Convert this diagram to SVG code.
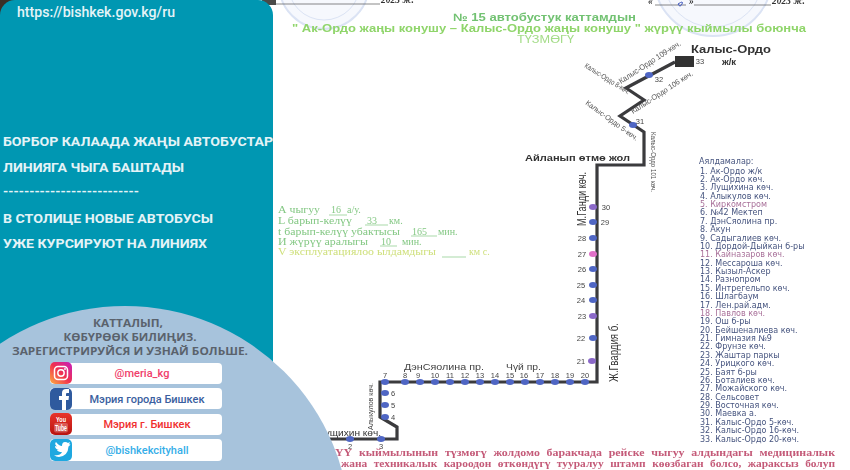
<svg xmlns="http://www.w3.org/2000/svg" width="850" height="470" viewBox="0 0 850 470">
<style>
.s{fill:#4f66c4}.p{fill:#8a68c8}.k{fill:#e070c8}
.n{font:7.5px "Liberation Sans",Arial,sans-serif;fill:#444;text-anchor:middle}
.r{font:8px "Liberation Sans",Arial,sans-serif;fill:#555}
.l{font:8px "DejaVu Sans",Verdana,sans-serif;fill:#46547f}
.lp{fill:#a87099}
.g{font:10px "Liberation Serif",serif;fill:#84c884}
.t{font:bold 11px "Liberation Sans",Arial,sans-serif;fill:#8fd56a}
.h{font:700 13.6px Roboto,"Liberation Sans",sans-serif;fill:#e4f3f7}
.c{font:700 11px "Open Sans","Liberation Sans",sans-serif;fill:#5a626c;text-anchor:middle}
.b{font:500 11px Roboto,"Liberation Sans",sans-serif;text-anchor:middle}
.red{font:bold 9.5px "Liberation Serif",serif;fill:#c45a78;word-spacing:3px}
.top{font:italic bold 9.5px "Liberation Serif",serif;fill:#333}
.pill{fill:#fff}
</style>
<defs>
<filter id="soft" x="-5%" y="-5%" width="110%" height="110%"><feGaussianBlur stdDeviation="0.35"/></filter>
<linearGradient id="ig" x1="0" y1="1" x2="1" y2="0"><stop offset="0" stop-color="#fdb040"/><stop offset="0.5" stop-color="#f0304f"/><stop offset="1" stop-color="#c41fc0"/></linearGradient>
<linearGradient id="yt" x1="0" y1="0" x2="0" y2="1"><stop offset="0" stop-color="#e8342a"/><stop offset="1" stop-color="#b81410"/></linearGradient>
</defs>
<rect width="850" height="470" fill="#fff"/>

<g id="document" filter="url(#soft)">
<g id="stamps" fill="none" stroke="#dbe3f4">
<circle cx="324" cy="-16" r="45" stroke-width="2" fill="#f6f8fd"/><circle cx="324" cy="-16" r="36" stroke-width="1"/>
<circle cx="713" cy="-23" r="59" stroke-width="2" fill="#f6f8fd"/><circle cx="713" cy="-23" r="50" stroke-width="1"/>
</g>
<path d="M276 4H380M655 5H686M694 5H771" stroke="#555" stroke-width="0.7" fill="none"/>
<text class="top" x="381" y="3">2023 ж.</text>
<text class="top" x="648" y="4">«</text><text class="top" x="689" y="4">»</text>
<text class="top" x="772" y="4">2023 ж.</text>
<path d="M678 4q6-4 4 0t-4 0" stroke="#4058c0" fill="none"/>

<text class="t" x="453" y="21" style="fill:#72c272" lengthAdjust="spacingAndGlyphs" textLength="183">№ 15 автобустук каттамдын</text>
<text class="t" x="292" y="32" lengthAdjust="spacingAndGlyphs" textLength="514">" Ак-Ордо жаңы конушу – Калыс-Ордо жаңы конушу " жүрүү кыймылы боюнча</text>
<text class="t" x="517" y="43" style="font-weight:normal;fill:#a4dc88" lengthAdjust="spacingAndGlyphs" textLength="57">ТҮЗМӨГҮ</text>

<g id="info">
<text class="g" x="278" y="213" lengthAdjust="spacingAndGlyphs" textLength="42">А чыгуу</text><text class="g" x="331" y="213">16</text><text class="g" x="347" y="213">а/у.</text>
<text class="g" x="278" y="224" lengthAdjust="spacingAndGlyphs" textLength="74">L барып-келүү</text><text class="g" x="367" y="224">33</text><text class="g" x="389" y="224">км.</text>
<text class="g" x="278" y="235" lengthAdjust="spacingAndGlyphs" textLength="122">t барып-келүү убактысы</text><text class="g" x="412" y="235">165</text><text class="g" x="438" y="235">мин.</text>
<text class="g" x="278" y="245" lengthAdjust="spacingAndGlyphs" textLength="90">И жүрүү аралыгы</text><text class="g" x="381" y="245">10</text><text class="g" x="402" y="245">мин.</text>
<text class="g" x="278" y="255" style="fill:#cfe07c" lengthAdjust="spacingAndGlyphs" textLength="158">V эксплуатациялоо ылдамдыгы</text><text class="g" x="469" y="255" style="fill:#cfe07c">км с.</text>
<path d="M329 215H347M365 225H388M411 236H437M380 246H397M442 257H466" stroke="#84c884" stroke-width="0.7" fill="none"/>
</g>

<g id="connectors">
<path id="route" d="M325 439H397V427L380 417V382H597V165H644V132L620 116L644 100L626 88L675 62" fill="none" stroke="#3a3a3e" stroke-width="3.2" stroke-linejoin="miter"/>
</g>

<g id="terminal"><rect x="675" y="56" width="19" height="11" fill="#333"/><text class="n" x="700" y="64">33</text></g>
<g id="stop-32"><ellipse class="s" cx="649" cy="75" rx="4" ry="3"/><text class="n" x="659" y="82">32</text></g>
<g id="stop-31"><ellipse class="s" cx="633" cy="125" rx="4" ry="3"/><text class="n" x="640" y="124">31</text></g>
<g id="stop-30"><ellipse class="p" cx="593" cy="207" rx="4" ry="3"/><text class="n" x="606" y="210">30</text></g>
<g id="stop-29"><ellipse class="s" cx="593" cy="222" rx="4" ry="3"/><text class="n" x="605" y="225">29</text></g>
<g id="stop-28"><ellipse class="s" cx="593" cy="238" rx="4" ry="3"/><text class="n" x="582" y="241">28</text></g>
<g id="stop-27"><ellipse class="k" cx="593" cy="254" rx="4" ry="3"/><text class="n" x="582" y="257">27</text></g>
<g id="stop-26"><ellipse class="s" cx="593" cy="269" rx="4" ry="3"/><text class="n" x="582" y="272">26</text></g>
<g id="stop-25"><ellipse class="s" cx="593" cy="285" rx="4" ry="3"/><text class="n" x="581" y="288">25</text></g>
<g id="stop-24"><ellipse class="s" cx="593" cy="300" rx="4" ry="3"/><text class="n" x="581" y="303">24</text></g>
<g id="stop-23"><ellipse class="p" cx="593" cy="316" rx="4" ry="3"/><text class="n" x="582" y="319">23</text></g>
<g id="stop-22"><ellipse class="s" cx="593" cy="338" rx="4" ry="3"/><text class="n" x="581" y="341">22</text></g>
<g id="stop-21"><ellipse class="p" cx="592" cy="361" rx="4" ry="3"/><text class="n" x="581" y="364">21</text></g>
<g id="stop-20"><ellipse class="s" cx="585" cy="382" rx="4" ry="3"/><text class="n" x="585" y="378">20</text></g>
<g id="stop-19"><ellipse class="s" cx="570" cy="382" rx="4" ry="3"/><text class="n" x="570" y="378">19</text></g>
<g id="stop-18"><ellipse class="s" cx="555" cy="382" rx="4" ry="3"/><text class="n" x="555" y="378">18</text></g>
<g id="stop-17"><ellipse class="s" cx="540" cy="382" rx="4" ry="3"/><text class="n" x="540" y="378">17</text></g>
<g id="stop-16"><ellipse class="s" cx="525" cy="382" rx="4" ry="3"/><text class="n" x="524" y="378">16</text></g>
<g id="stop-15"><ellipse class="s" cx="510" cy="382" rx="4" ry="3"/><text class="n" x="510" y="378">15</text></g>
<g id="stop-14"><ellipse class="s" cx="495" cy="382" rx="4" ry="3"/><text class="n" x="495" y="378">14</text></g>
<g id="stop-13"><ellipse class="s" cx="480" cy="382" rx="4" ry="3"/><text class="n" x="480" y="378">13</text></g>
<g id="stop-12"><ellipse class="s" cx="465" cy="382" rx="4" ry="3"/><text class="n" x="465" y="378">12</text></g>
<g id="stop-11"><ellipse class="s" cx="450" cy="382" rx="4" ry="3"/><text class="n" x="450" y="378">11</text></g>
<g id="stop-10"><ellipse class="s" cx="435" cy="382" rx="4" ry="3"/><text class="n" x="435" y="378">10</text></g>
<g id="stop-9"><ellipse class="s" cx="420" cy="382" rx="4" ry="3"/><text class="n" x="418" y="378">9</text></g>
<g id="stop-8"><ellipse class="s" cx="405" cy="382" rx="4" ry="3"/><text class="n" x="405" y="378">8</text></g>
<g id="stop-7"><ellipse class="s" cx="385" cy="382" rx="4" ry="3"/><text class="n" x="385" y="378">7</text></g>
<g id="stop-6"><ellipse class="s" cx="385" cy="393" rx="4" ry="3"/><text class="n" x="393" y="396">6</text></g>
<g id="stop-5"><ellipse class="s" cx="385" cy="405" rx="4" ry="3"/><text class="n" x="393" y="408">5</text></g>
<g id="stop-4"><ellipse class="s" cx="385" cy="417" rx="4" ry="3"/><text class="n" x="393" y="420">4</text></g>
<g id="stop-3"><ellipse class="s" cx="381" cy="439" rx="4" ry="3"/><text class="n" x="381" y="448.500">3</text></g>
<g id="stop-2"><ellipse class="s" cx="350" cy="439" rx="4" ry="3"/><text class="n" x="350" y="448.500">2</text></g>

<g id="route-labels">
<text x="691" y="53" style="font:bold 10.5px 'Liberation Sans',sans-serif;fill:#333" lengthAdjust="spacingAndGlyphs" textLength="80">Калыс-Ордо</text>
<text x="722" y="65" style="font:bold 9.5px 'Liberation Sans',sans-serif;fill:#333">ж/к</text>
<text x="525" y="161" style="font:bold 9.5px 'Liberation Sans',sans-serif;fill:#333" lengthAdjust="spacingAndGlyphs" textLength="105">Айланып өтмө жол</text>
<text class="r" transform="translate(621 84) rotate(-33)" lengthAdjust="spacingAndGlyphs" textLength="72">Калыс-Ордо 109-көч.</text>
<text class="r" transform="translate(633 114) rotate(-33)" lengthAdjust="spacingAndGlyphs" textLength="72" style="font-size:7.5px">Калыс-Ордо 106 көч.</text>
<text class="r" transform="translate(584 67) rotate(32)" style="font-size:7.5px" lengthAdjust="spacingAndGlyphs" textLength="52">Калыс-Ордо 8-көч.</text>
<text class="r" transform="translate(585 104) rotate(36)" style="font-size:7.5px" lengthAdjust="spacingAndGlyphs" textLength="63">Калыс-Ордо 5-көч.</text>
<text class="r" transform="translate(651 132) rotate(90)" style="font-size:7.5px" lengthAdjust="spacingAndGlyphs" textLength="60">Калыс-Ордо 101 көч.</text>
<text class="r" transform="translate(586 226) rotate(-90)" style="font-size:12px;fill:#333" lengthAdjust="spacingAndGlyphs" textLength="54">М.Ганди көч.</text>
<text class="r" transform="translate(618 382) rotate(-90)" style="font-size:12px;fill:#333" lengthAdjust="spacingAndGlyphs" textLength="59">Ж.Гвардия б.</text>
<text class="r" transform="translate(373 430) rotate(-90)" style="font-size:8px;fill:#444" lengthAdjust="spacingAndGlyphs" textLength="47">Алыкулов көч.</text>
<text class="r" x="404" y="370" style="font-size:8.6px;fill:#444" lengthAdjust="spacingAndGlyphs" textLength="80">ДэнСяолина пр.</text>
<text class="r" x="506" y="370" style="font-size:8.6px;fill:#444" lengthAdjust="spacingAndGlyphs" textLength="35">Чүй пр.</text>
<text class="r" x="318" y="436" style="font-size:8.6px;fill:#333" lengthAdjust="spacingAndGlyphs" textLength="63">Лущихин көч.</text>
</g>

<g id="legend">
<text class="l" x="699" y="164">Аялдамалар:</text>
<text class="l" x="700" y="173.5">1. Ак-Ордо ж/к</text>
<text class="l" x="700" y="181.9">2. Ак-Ордо көч.</text>
<text class="l" x="700" y="190.3">3. Лущихина көч.</text>
<text class="l" x="700" y="198.6">4. Алыкулов көч.</text>
<text class="l lp" x="700" y="207">5. Киркомстром</text>
<text class="l" x="700" y="215.4">6. №42 Мектеп</text>
<text class="l" x="700" y="223.8">7. ДэнСяолина пр.</text>
<text class="l" x="700" y="232.1">8. Акун</text>
<text class="l" x="700" y="240.5">9. Садыгалиев көч.</text>
<text class="l" x="700" y="248.9">10. Дордой-Дыйкан б-ры</text>
<text class="l lp" x="700" y="257.3">11. Кайназаров көч.</text>
<text class="l" x="700" y="265.6">12. Мессароша көч.</text>
<text class="l" x="700" y="274">13. Кызыл-Аскер</text>
<text class="l" x="700" y="282.4">14. Разнопром</text>
<text class="l" x="700" y="290.8">15. Интрегельпо көч.</text>
<text class="l" x="700" y="299.1">16. Шлагбаум</text>
<text class="l" x="700" y="307.5">17. Лен.рай.адм.</text>
<text class="l lp" x="700" y="315.9">18. Павлов көч.</text>
<text class="l" x="700" y="324.3">19. Ош б-ры</text>
<text class="l" x="700" y="332.6">20. Бейшеналиева көч.</text>
<text class="l" x="700" y="341">21. Гимназия №9</text>
<text class="l" x="700" y="349.4">22. Фрунзе көч.</text>
<text class="l" x="700" y="357.8">23. Жаштар паркы</text>
<text class="l" x="700" y="366.1">24. Урицкого көч.</text>
<text class="l" x="700" y="374.5">25. Баят б-ры</text>
<text class="l" x="700" y="382.9">26. Боталиев көч.</text>
<text class="l" x="700" y="391.3">27. Можайского көч.</text>
<text class="l" x="700" y="399.6">28. Сельсовет</text>
<text class="l" x="700" y="408">29. Восточная көч.</text>
<text class="l" x="700" y="416.4">30. Маевка а.</text>
<text class="l" x="700" y="424.8">31. Калыс-Ордо 5-көч.</text>
<text class="l" x="700" y="433.1">32. Калыс-Ордо 16-көч.</text>
<text class="l" x="700" y="441.5">33. Калыс-Ордо 20-көч.</text>
</g>

<text class="red" x="335" y="456" lengthAdjust="spacingAndGlyphs" textLength="500">ҮҮ кыймылынын түзмөгү жолдомо баракчада рейске чыгуу алдындагы медициналык</text>
<text class="red" x="341" y="467" lengthAdjust="spacingAndGlyphs" textLength="494">жана техникалык кароодон өткөндүгү тууралуу штамп көөзбаган болсо, жараксыз болуп</text>
</g>

<g id="panel">
<rect x="0" y="0" width="22" height="20" fill="#3a3028"/>
<rect x="262" y="0" width="14" height="5" fill="#4a4a48"/>
<rect x="0" y="0" width="273" height="470" rx="15" fill="#0097b2"/>
<rect x="0" y="20" width="273" height="450" fill="#0097b2"/>
<text x="17" y="17" style="font:500 14px Roboto,'Liberation Sans',sans-serif;fill:#e4f3f7" lengthAdjust="spacingAndGlyphs" textLength="158">https://bishkek.gov.kg/ru</text>
<text class="h" x="3" y="146" lengthAdjust="spacingAndGlyphs" textLength="270">БОРБОР КАЛААДА ЖАҢЫ АВТОБУСТАР</text>
<text class="h" x="3" y="172" lengthAdjust="spacingAndGlyphs" textLength="181">ЛИНИЯГА ЧЫГА БАШТАДЫ</text>
<text class="h" x="3" y="196" lengthAdjust="spacingAndGlyphs" textLength="136">--------------------------</text>
<text class="h" x="3" y="223" lengthAdjust="spacingAndGlyphs" textLength="210">В СТОЛИЦЕ НОВЫЕ АВТОБУСЫ</text>
<text class="h" x="3" y="248" lengthAdjust="spacingAndGlyphs" textLength="204">УЖЕ КУРСИРУЮТ НА ЛИНИЯХ</text>
</g>

<g id="signup">
<ellipse cx="125" cy="530" rx="225" ry="224" fill="#a7c3dc"/>
<text class="c" x="128" y="327" lengthAdjust="spacingAndGlyphs" textLength="70">КАТТАЛЫП,</text>
<text class="c" x="130" y="341" lengthAdjust="spacingAndGlyphs" textLength="133">КӨБҮРӨӨК БИЛИҢИЗ.</text>
<text class="c" x="130" y="355" lengthAdjust="spacingAndGlyphs" textLength="236">ЗАРЕГИСТРИРУЙСЯ И УЗНАЙ БОЛЬШЕ.</text>
</g>

<g id="instagram">
<rect class="pill" x="50" y="363" width="172" height="21" rx="4"/>
<rect x="50" y="362" width="22" height="22" rx="5" fill="url(#ig)"/>
<rect x="54.500" y="366.500" width="13" height="13" rx="3.500" fill="none" stroke="#fff" stroke-width="1.500"/>
<circle cx="61" cy="373" r="3.200" fill="none" stroke="#fff" stroke-width="1.400"/><circle cx="65" cy="369" r="0.900" fill="#fff"/>
<text class="b" x="142" y="377" fill="#f0406a">@meria_kg</text>
</g>
<g id="facebook">
<rect class="pill" x="50" y="388" width="172" height="21" rx="4"/>
<rect x="50" y="388" width="22" height="22" rx="5" fill="#2f5a9e"/>
<path d="M62 410V400H59V396H62V393Q62 389 66 389H69V393H67Q66 393 66 394V396H69L68.500 400H66V410Z" fill="#fff"/>
<text class="b" x="147" y="403" fill="#3b5fa0">Мэрия города Бишкек</text>
</g>
<g id="youtube">
<rect class="pill" x="50" y="414" width="172" height="21" rx="4"/>
<rect x="50" y="413" width="22" height="22" rx="5" fill="url(#yt)"/>
<text x="61" y="422" style="font:bold 8px 'Liberation Sans Narrow','Liberation Sans',sans-serif;fill:#fff" text-anchor="middle" lengthAdjust="spacingAndGlyphs" textLength="10">You</text>
<rect x="54" y="423" width="14" height="9.500" rx="2" fill="#fff" fill-opacity="0.25"/>
<text x="61" y="431" style="font:bold 8.5px 'Liberation Sans Narrow','Liberation Sans',sans-serif;fill:#fff" text-anchor="middle" lengthAdjust="spacingAndGlyphs" textLength="12">Tube</text>
<text class="b" x="147" y="428" fill="#f03030">Мэрия г. Бишкек</text>
</g>
<g id="twitter">
<rect class="pill" x="50" y="439" width="172" height="22" rx="4"/>
<rect x="50" y="439" width="22" height="22" rx="5" fill="#1ea8e0"/>
<path d="M54 455Q60 456 62 452Q58 452 57 450H59Q55 449 55 446L57 446.500Q54 444 56 442Q59 446 62 446Q62 442 65 442Q67 442 68 443L70 442L69 444.500L70.500 444Q69.500 446 68.500 446.500Q68 456 59 457Q56 457 54 455Z" fill="#fff"/>
<text class="b" x="147" y="454" fill="#35aee8">@bishkekcityhall</text>
</g>
</svg>
